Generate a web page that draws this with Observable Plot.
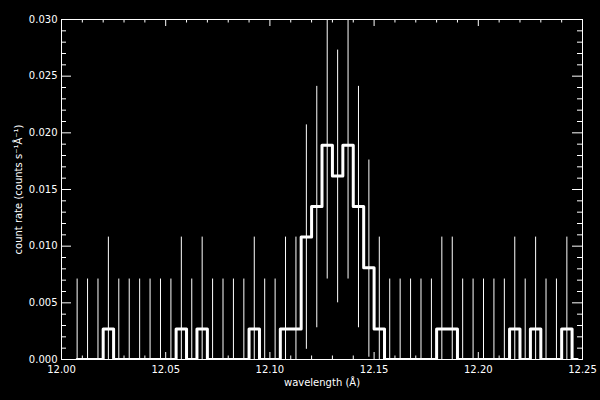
<!DOCTYPE html>
<html>
<head>
<meta charset="utf-8">
<script src="https://cdn.jsdelivr.net/npm/d3@7"></script>
<script src="https://cdn.jsdelivr.net/npm/@observablehq/plot@0.6"></script>
<style>
  html, body { margin: 0; padding: 0; background: #000; }
</style>
</head>
<body>
<div id="chart"></div>
<script>
// Bin centres (Å)
const wavelength = [
  12.0075, 12.0125, 12.0175, 12.0225, 12.0275, 12.0325, 12.0375, 12.0425, 12.0475, 12.0525,
  12.0575, 12.0625, 12.0675, 12.0725, 12.0775, 12.0825, 12.0875, 12.0925, 12.0975, 12.1025,
  12.1075, 12.1125, 12.1175, 12.1225, 12.1275, 12.1325, 12.1375, 12.1425, 12.1475, 12.1525,
  12.1575, 12.1625, 12.1675, 12.1725, 12.1775, 12.1825, 12.1875, 12.1925, 12.1975, 12.2025,
  12.2075, 12.2125, 12.2175, 12.2225, 12.2275, 12.2325, 12.2375, 12.2425, 12.2475
];
// Count rate (counts s^-1 Å^-1)
const countRate = [
  0, 0, 0, 0.0027, 0, 0, 0, 0, 0, 0,
  0.0027, 0, 0.0027, 0, 0, 0, 0, 0.0027, 0, 0,
  0.0027, 0.0027, 0.0108, 0.0135, 0.0189, 0.0162, 0.0189, 0.0135, 0.0081, 0.0027,
  0, 0, 0, 0, 0, 0.0027, 0.0027, 0, 0, 0,
  0, 0, 0.0027, 0, 0.0027, 0, 0, 0.0027, 0
];
// Error bar lower ends
const errLow = [
  0, 0, 0, 0, 0, 0, 0, 0, 0, 0,
  0, 0, 0, 0, 0, 0, 0, 0, 0, 0,
  0, 0, 0.0009, 0.0028, 0.0071, 0.0050, 0.0071, 0.0028, 0.0002, 0,
  0, 0, 0, 0, 0, 0, 0, 0, 0, 0,
  0, 0, 0, 0, 0, 0, 0, 0, null
];
// Error bar upper ends
const errHigh = [
  0.0071, 0.0071, 0.0071, 0.0108, 0.0071, 0.0071, 0.0071, 0.0071, 0.0071, 0.0071,
  0.0108, 0.0071, 0.0108, 0.0071, 0.0071, 0.0071, 0.0071, 0.0108, 0.0071, 0.0071,
  0.0108, 0.0108, 0.0207, 0.0241, 0.0310, 0.0273, 0.0310, 0.0241, 0.0176, 0.0108,
  0.0071, 0.0071, 0.0071, 0.0071, 0.0071, 0.0108, 0.0108, 0.0071, 0.0071, 0.0071,
  0.0071, 0.0071, 0.0108, 0.0071, 0.0108, 0.0071, 0.0071, 0.0108, null
];

const xMajorTicks = [12.00, 12.05, 12.10, 12.15, 12.20, 12.25];
const xMinorTicks = [12.01, 12.02, 12.03, 12.04, 12.06, 12.07, 12.08, 12.09, 12.11, 12.12, 12.13, 12.14,
                     12.16, 12.17, 12.18, 12.19, 12.21, 12.22, 12.23, 12.24];
const yMajorTicks = [0.000, 0.005, 0.010, 0.015, 0.020, 0.025, 0.030];
const yMinorTicks = d3.range(0, 0.0305, 0.001).filter(v => Math.abs(v / 0.005 - Math.round(v / 0.005)) > 1e-6);

const xLabel = "wavelength (Å)";
const yLabel = "count rate (counts s⁻¹Å⁻¹)";

const data = wavelength.map((x, i) => ({x, y: countRate[i], lo: errLow[i], hi: errHigh[i]}));

const mL = 61, mR = 18, mT = 19, mB = 41, W = 600, H = 400;
const ph = H - mT - mB, pw = W - mL - mR;

const chart = Plot.plot({
  width: W,
  height: H,
  marginLeft: mL,
  marginRight: mR,
  marginTop: mT,
  marginBottom: mB,
  style: {background: "#000", color: "#fff", fontFamily: "'DejaVu Sans', sans-serif", fontSize: "10px"},
  x: {domain: [12.00, 12.25]},
  y: {domain: [0, 0.030]},
  marks: [
    Plot.ruleX(data, {x: "x", y1: "lo", y2: "hi", stroke: "#fff", strokeWidth: 1, clip: true}),
    Plot.line(data, {x: "x", y: "y", curve: "step", stroke: "#fff", strokeWidth: 3, clip: true}),
    Plot.frame({stroke: "#fff"}),
    // ticks pointing inward on all four sides
    Plot.tickX(xMajorTicks, {stroke: "#fff", insetTop: ph - 7}),
    Plot.tickX(xMajorTicks, {stroke: "#fff", insetBottom: ph - 7}),
    Plot.tickX(xMinorTicks, {stroke: "#fff", insetTop: ph - 3.5}),
    Plot.tickX(xMinorTicks, {stroke: "#fff", insetBottom: ph - 3.5}),
    Plot.tickY(yMajorTicks, {stroke: "#fff", insetRight: pw - 10}),
    Plot.tickY(yMajorTicks, {stroke: "#fff", insetLeft: pw - 10}),
    Plot.tickY(yMinorTicks, {stroke: "#fff", insetRight: pw - 5}),
    Plot.tickY(yMinorTicks, {stroke: "#fff", insetLeft: pw - 5}),
    Plot.axisX(xMajorTicks, {tickSize: 0, tickPadding: 6, tickFormat: d3.format(".2f"), label: null}),
    Plot.axisY(yMajorTicks, {tickSize: 0, tickPadding: 4, tickFormat: d3.format(".3f"), label: null}),
    Plot.text([xLabel], {text: d => d, frameAnchor: "bottom", textAnchor: "middle", dy: 26, fill: "#fff"}),
    Plot.text([yLabel], {text: d => d, frameAnchor: "left", textAnchor: "middle", dx: -43, rotate: -90, fill: "#fff"})
  ]
});
document.getElementById("chart").appendChild(chart);
</script>
</body>
</html>
